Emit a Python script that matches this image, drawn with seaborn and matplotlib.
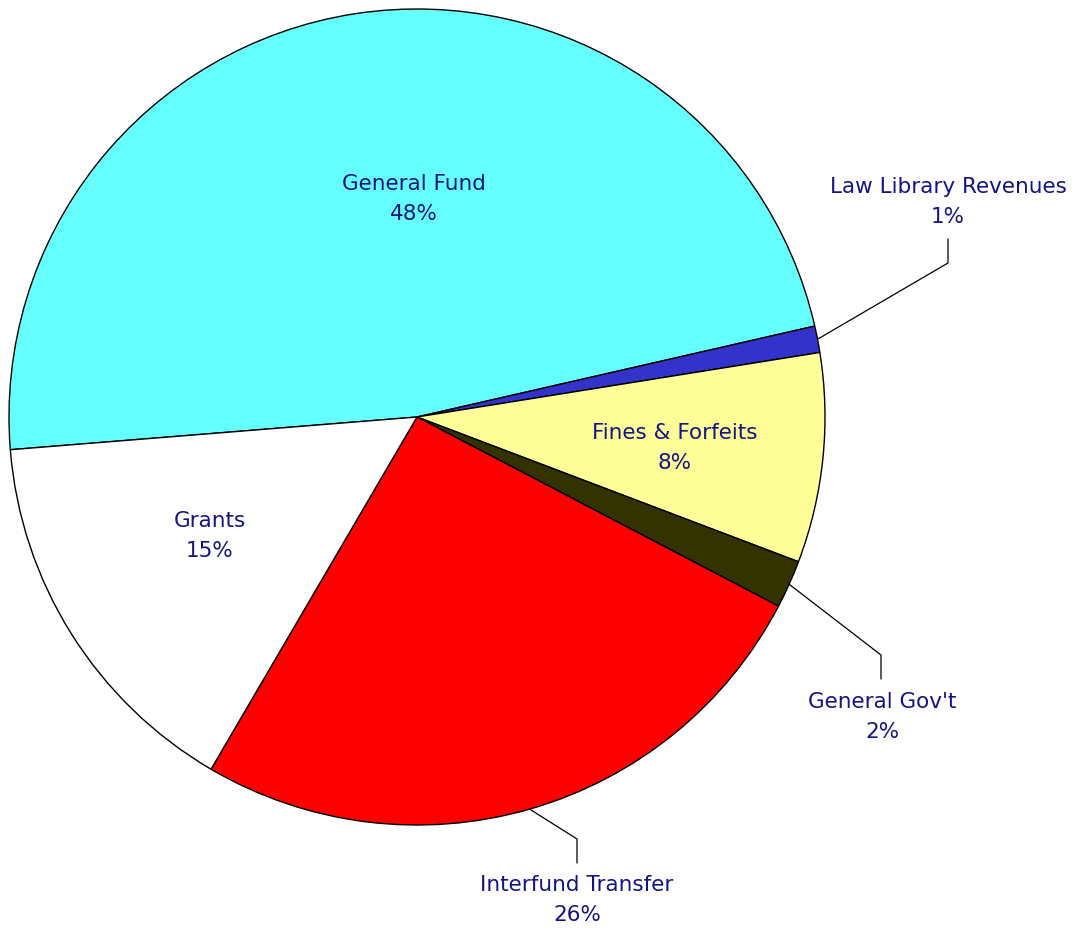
import numpy as np
import matplotlib
matplotlib.use("Agg")
import matplotlib.pyplot as plt
import seaborn as sns

# slice data, clockwise from the left edge
categories = ["General Fund", "Law Library Revenues", "Fines & Forfeits",
              "General Gov't", "Interfund Transfer", "Grants"]
shares = [47.7, 1.05, 8.3, 1.9, 25.75, 15.3]
pct_labels = ["48%", "1%", "8%", "2%", "26%", "15%"]
colors = ["#66FFFF", "#3333CC", "#FFFF99", "#333300", "#FF0000", "#FFFFFF"]

W, H = 1092, 930
CX, CY, R = 417, 417, 408


def px(x, y):
    # pixel position -> data coords (pie radius = 1)
    return (x - CX) / R, (CY - y) / R


sns.set_theme(style="white")
plt.rcParams["font.family"] = ["DejaVu Sans"]

fig = plt.figure(figsize=(W / 100, H / 100), dpi=100)
ax = fig.add_axes([0, 0, 1, 1])
wedges, _ = ax.pie(shares, colors=colors, startangle=184.6, counterclock=False,
                   radius=1, wedgeprops=dict(edgecolor="black", linewidth=1))
ax.set_xlim(-CX / R, (W - CX) / R)
ax.set_ylim(-(H - CY) / R, CY / R)
ax.set_aspect("auto")
ax.axis("off")

# label centres (pixels) and leader line elbows (None = label inside)
label_pos = [(414, 199), (948, 202), (675, 448), (882, 717), (577, 900), (210, 536)]
elbows = [None, ((948, 263), (948, 239)), None,
          ((881, 655), (881, 679)), ((577, 839), (577, 863)), None]

text_color = "#141482"
for w, name, pct, pos, elb in zip(wedges, categories, pct_labels, label_pos, elbows):
    x, y = px(*pos)
    ax.text(x, y, f"{name}\n{pct}", ha="center", va="center", color=text_color,
            fontsize=15.5, linespacing=1.65)
    if elb is not None:
        mid = np.deg2rad((w.theta1 + w.theta2) / 2)
        x0, y0 = np.cos(mid), np.sin(mid)
        (ex, ey), (tx, ty) = px(*elb[0]), px(*elb[1])
        ax.plot([x0, ex, tx], [y0, ey, ty], color="black", linewidth=0.9)

fig.savefig("out.png", dpi=100)
